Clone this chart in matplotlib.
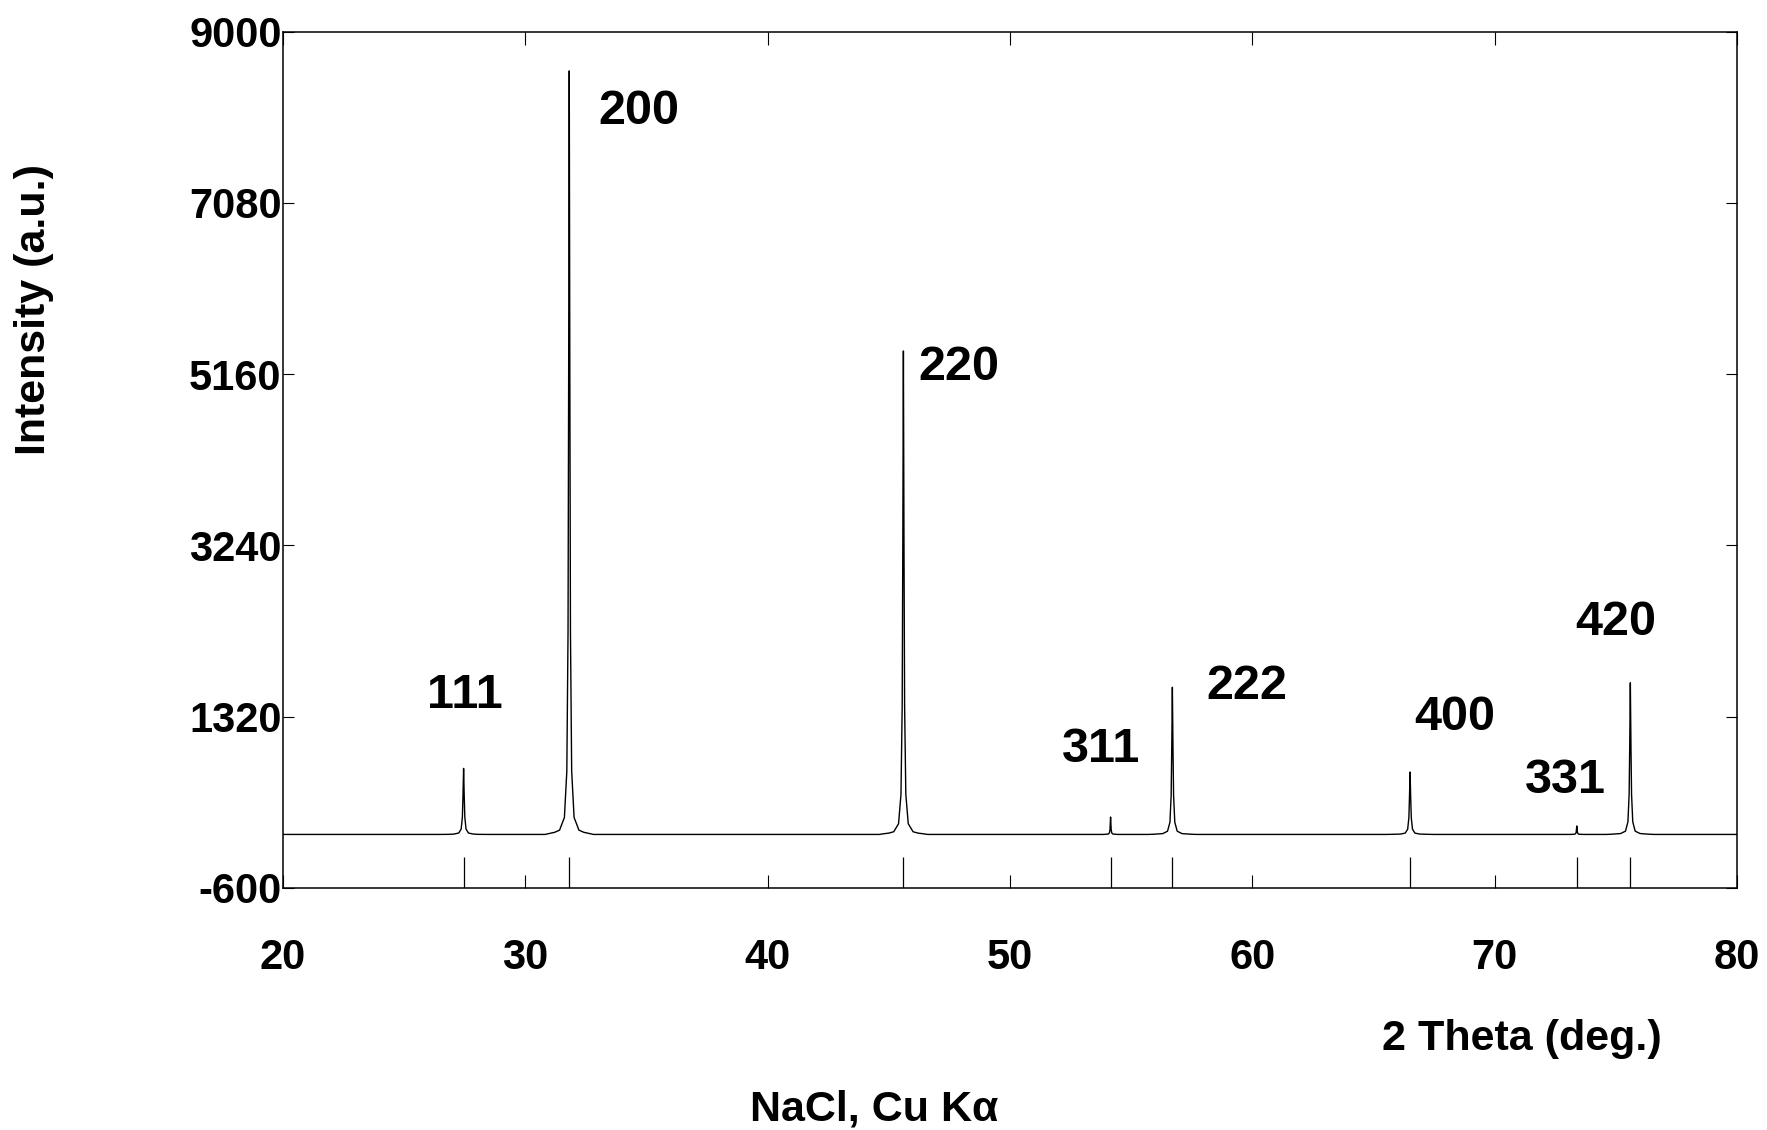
import matplotlib
matplotlib.use("Agg")
import matplotlib.pyplot as plt

plt.rcParams['font.family'] = ['Liberation Sans', 'DejaVu Sans']
plt.rcParams['font.weight'] = 'bold'
plt.rcParams['axes.unicode_minus'] = False

# Peak list (2 theta in deg., intensity in a.u.)
hkl = ["111", "200", "220", "311", "222", "400", "331", "420"]
peak_pos = [27.45, 31.81, 45.60, 54.15, 56.70, 66.51, 73.39, 75.60]
peak_int = [740, 8560, 5420, 195, 1650, 700, 95, 1700]

# label anchor points (data coords)
label_x = [27.49, 34.70, 47.91, 53.77, 59.77, 68.37, 72.93, 74.98]
label_y = [1560, 8100, 5235, 953, 1661, 1307, 600, 2381]

# measured trace, peak by peak
two_theta = [20.0,
             26.45, 26.85, 27.05, 27.25, 27.35, 27.40, 27.425, 27.45, 27.475, 27.50, 27.55, 27.65, 27.85, 28.05, 28.45,
             30.81, 31.01, 31.21, 31.41, 31.61, 31.71, 31.76, 31.785, 31.81, 31.835, 31.86, 31.91, 32.01, 32.21, 32.41, 32.61, 32.81,
             44.60, 44.80, 45.00, 45.20, 45.40, 45.50, 45.55, 45.575, 45.60, 45.625, 45.65, 45.70, 45.80, 46.00, 46.20, 46.40, 46.60,
             53.85, 54.05, 54.10, 54.125, 54.15, 54.175, 54.20, 54.25, 54.45,
             55.70, 55.90, 56.30, 56.50, 56.60, 56.65, 56.675, 56.70, 56.725, 56.75, 56.80, 56.90, 57.10, 57.50, 57.70,
             65.51, 65.71, 66.11, 66.31, 66.41, 66.46, 66.485, 66.51, 66.535, 66.56, 66.61, 66.71, 66.91, 67.31, 67.51,
             73.09, 73.29, 73.34, 73.365, 73.39, 73.415, 73.44, 73.49, 73.69,
             74.60, 74.80, 75.20, 75.40, 75.50, 75.55, 75.575, 75.60, 75.625, 75.65, 75.70, 75.80, 76.00, 76.40, 76.60,
             80.0]
intensity = [0,
             0, 1, 4, 16, 61, 196, 437, 740, 437, 196, 61, 16, 4, 1, 0,
             0, 12, 24, 48, 190, 710, 2270, 5050, 8560, 5050, 2270, 710, 190, 48, 24, 12, 0,
             0, 8, 15, 30, 120, 450, 1440, 3200, 5420, 3200, 1440, 450, 120, 30, 15, 8, 0,
             0, 4, 16, 52, 195, 52, 16, 4, 0,
             0, 2, 9, 36, 137, 437, 975, 1650, 975, 437, 137, 36, 9, 2, 0,
             0, 1, 4, 15, 58, 186, 413, 700, 413, 186, 58, 15, 4, 1, 0,
             0, 2, 8, 25, 95, 25, 8, 2, 0,
             0, 2, 10, 37, 141, 450, 1000, 1700, 1000, 450, 141, 37, 10, 2, 0,
             0]

x_ticks = [20, 30, 40, 50, 60, 70, 80]
y_ticks = [-600, 1320, 3240, 5160, 7080, 9000]

fig = plt.figure(figsize=(17.67, 11.30), dpi=100)
ax = fig.add_axes([0.1602, 0.2142, 0.8228, 0.7578])

ax.plot(two_theta, intensity, color='black', lw=1.0)
# reference stick pattern along the bottom
ax.vlines(peak_pos, -600, -250, color='black', lw=0.9)

for lab, lx, ly in zip(hkl, label_x, label_y):
    ax.text(lx, ly, lab, ha='center', va='center', fontsize=35, fontweight='bold')

ax.set_xlim(20, 80)
ax.set_ylim(-600, 9000)
ax.set_xticks(x_ticks)
ax.set_yticks(y_ticks)
ax.tick_params(axis='x', direction='in', top=True, length=9.5, width=0.8, pad=36, labelsize=30)
ax.tick_params(axis='y', direction='in', right=True, length=8, width=0.8, pad=1, labelsize=30)
for lbl in ax.get_xticklabels() + ax.get_yticklabels():
    lbl.set_fontweight('bold')
for sp in ax.spines.values():
    sp.set_linewidth(1.1)

fig.text(0.0192, 0.7257, "Intensity (a.u.)", rotation=90, ha='center', va='center',
         fontsize=31, fontweight='bold')
fig.text(0.9406, 0.0805, "2 Theta (deg.)", ha='right', va='center', fontsize=31, fontweight='bold')
fig.text(0.4946, 0.0177, "NaCl, Cu K\u03b1", ha='center', va='center', fontsize=31, fontweight='bold')

fig.savefig("out.png", dpi=100)
